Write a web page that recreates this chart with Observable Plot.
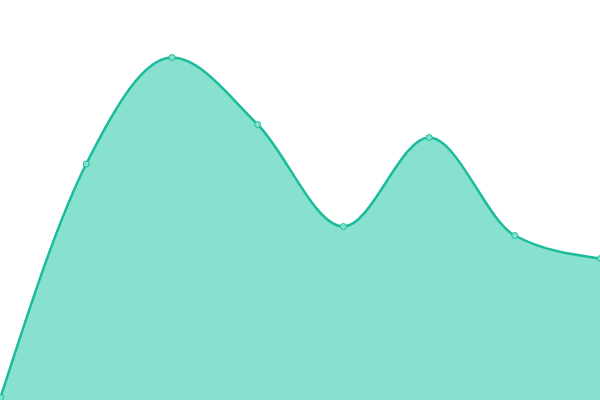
<!DOCTYPE html>
<html>
<head>
<meta charset="utf-8">
<script src="https://cdn.jsdelivr.net/npm/d3@7"></script>
<script src="https://cdn.jsdelivr.net/npm/@observablehq/plot@0.6"></script>
<style>
  html, body { margin: 0; padding: 0; background: #fff; }
</style>
</head>
<body>
<div id="chart"></div>
<script>
const indices = [0, 1, 2, 3, 4, 5, 6, 7];
const values = [3, 236.5, 343, 276, 174, 263, 165, 142];

const data = indices.map((x, i) => ({x, y: values[i]}));

const chart = Plot.plot({
  width: 600,
  height: 400,
  margin: 0,
  x: {domain: [0, 7], range: [0, 600], axis: null},
  y: {domain: [0, 400], range: [400, 0], axis: null},
  marks: [
    Plot.areaY(data, {x: "x", y: "y", curve: "monotone-x", fill: "#88e0cf"}),
    Plot.lineY(data, {x: "x", y: "y", curve: "monotone-x", stroke: "#1abc9c", strokeWidth: 2.5}),
    Plot.dot(data, {x: "x", y: "y", r: 3, fill: "#88e0cf", stroke: "#1abc9c", strokeWidth: 1})
  ]
});
document.getElementById("chart").appendChild(chart);
</script>
</body>
</html>
